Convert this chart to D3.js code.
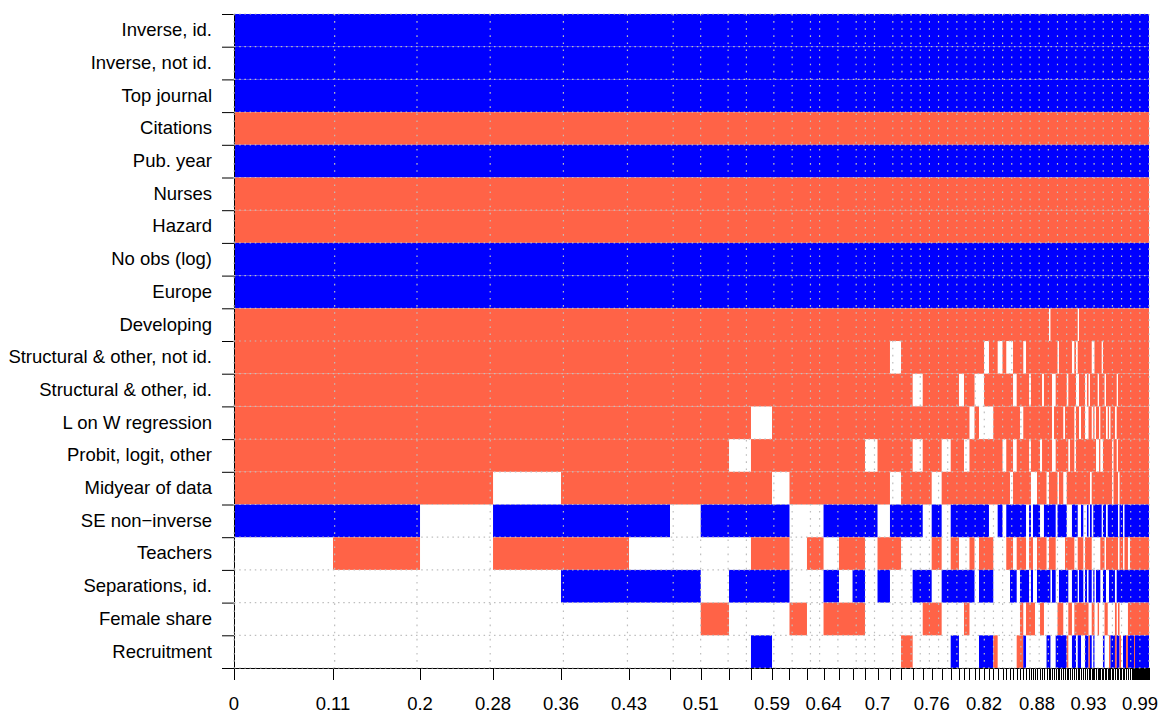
<!DOCTYPE html>
<html>
<head>
<meta charset="utf-8">
<script src="https://cdn.jsdelivr.net/npm/d3@7"></script>
<style>
  body { margin: 0; background: #ffffff; }
  svg { display: block; }
  text { font-family: "Liberation Sans", Arial, Helvetica, sans-serif; }
</style>
</head>
<body>
<svg id="chart" width="1159" height="713"></svg>
<script>
// ---- data -------------------------------------------------------------
const variables = [
  "Inverse, id.", "Inverse, not id.", "Top journal", "Citations", "Pub. year",
  "Nurses", "Hazard", "No obs (log)", "Europe", "Developing",
  "Structural & other, not id.", "Structural & other, id.", "L on W regression",
  "Probit, logit, other", "Midyear of data", "SE non\u2212inverse", "Teachers",
  "Separations, id.", "Female share", "Recruitment"
];

// cumulative posterior model probability at the right edge of each model
const cumPMP = [
  0.1082, 0.2033, 0.2831, 0.3574, 0.4317, 0.4765, 0.5101, 0.5410, 0.5650, 0.5880,
  0.6071, 0.6262, 0.6443, 0.6612, 0.6760, 0.6896, 0.7033, 0.7169, 0.7290, 0.7417,
  0.7527, 0.7625, 0.7734, 0.7833, 0.7923, 0.7978, 0.8038, 0.8093, 0.8142, 0.8197,
  0.8251, 0.8298, 0.8346, 0.8399, 0.8440, 0.8481, 0.8514, 0.8554, 0.8590, 0.8626,
  0.8656, 0.8689, 0.8710, 0.8732, 0.8754, 0.8776, 0.8809, 0.8831, 0.8852, 0.8880,
  0.8907, 0.8923, 0.8940, 0.8962, 0.8980, 0.9000, 0.9016, 0.9038, 0.9063, 0.9082,
  0.9101, 0.9118, 0.9137, 0.9158, 0.9184, 0.9202, 0.9221, 0.9235, 0.9257, 0.9282,
  0.9301, 0.9322, 0.9339, 0.9355, 0.9374, 0.9391, 0.9404, 0.9421, 0.9439, 0.9454,
  0.9468, 0.9483, 0.9497, 0.9514, 0.9530, 0.9549, 0.9563, 0.9579, 0.9596, 0.9612,
  0.9628, 0.9647, 0.9661, 0.9678, 0.9694, 0.9716, 0.9732, 0.9749, 0.9770, 0.9792,
  0.9814, 0.9825, 0.9836, 0.9847, 0.9858, 0.9869, 0.9880, 0.9891, 0.9902, 0.9913,
  0.9923, 0.9934, 0.9945, 0.9956, 0.9967, 0.9978, 0.9989, 1.0000
];

// sign of each variable in each model (one string per model, one char per variable)
// "+" positive, "-" negative, "0" not included
const modelSigns = [
  "---+-++--++++++-0000", "---+-++--++++++-+000", "---+-++--++++++00000", "---+-++--+++++0-+000",
  "---+-++--++++++-+-00", "---+-++--++++++-0-00", "---+-++--++++++00-00", "---+-++--++++++-00+0",
  "---+-++--++++0+-0-00", "---+-++--+++0++-+-0-", "---+-++--+++++0-+-00", "---+-++--++++++000+0",
  "---+-++--++++++0+000", "---+-++--++++++-0-+0", "---+-++--++++++-+0+0", "---+-++--++++++-+-+0",
  "---+-++--++++0+-0000", "---+-++--++++++0+-00", "---+-++--+0+++0-+000", "---+-++--++++++-000+",
  "---+-++--++0+0+-0-00", "---+-++--++++++00-+0", "---+-++--+++++0-+0+0", "---+-++--++++0+00-00",
  "---+-++--++++++-+-0-", "---+-++--++0+++-0-00", "---+-++--++++0+-0-+0", "---+-++--+++0++-+-00",
  "---+-++--++0+++-0000", "---+-++--++00++-+-0-", "---+-++--+0+0++-+-0-", "---+-++--+++0++0+-0-",
  "---+-++--++++++0000+", "---+-++--+0++++-0000", "---+-++--++++0+00000", "---+-++--+0++++-+000",
  "---+-++--+0+++0-+-00", "---+-++--++0+0+-0-00", "---+-++--++++++-+00+", "---+-++--+++0++-+-++",
  "---+-++--+0++++-+-0-", "---+-++--++++++00-+0", "---+-++--++0+0+-+0+0", "---+-++--+++++00+-+0",
  "---+-++--+++++0-00+0", "---+-++--+++++0-0000", "---+-++--++++++-+-00", "---+-++--++++0+0+-+0",
  "---+-++--++0+++0+-+0", "---+-++--++++++-+-00", "---+-++--+++++0-0-0-", "---+-++--0+++++-+-0-",
  "---+-++--++++++-+000", "---+-++--++000+-+-00", "---+-++--++0+0+-+-00", "---+-++--++++++0000-",
  "---+-++--+0+++0-00+-", "---+-++--++++++-0-+-", "---+-++--++++++-0-+-", "---+-++--+++0+0-0-0-",
  "---+-++--+++++0-+-0-", "---+-++--++0+++0+-0+", "---+-++--++++0+0+0+0", "---+-++--++++++0+0+0",
  "---+-++--+0++++-+-0-", "---+-++--+++00+-0-+-", "---+-++--+00+++-0-+0", "---+-++--0+0+++0+0+-",
  "---+-++--+++0++0+-+-", "---+-++--++++++-+-+0", "---+-++--++++++000+0", "---+-++--++00++0+-+-",
  "---+-++--+++0++-+0+-", "---+-++--++0+++0+-0+", "---+-++--+++++0-+-0-", "---+-++--+0+0++000+0",
  "---+-++--+0++++-0-+-", "---+-++--+++0++-0000", "---+-++--++++0+-0-00", "---+-++--++0+0+-0-+0",
  "---+-++--+++0++-0-00", "---+-++--++++0+-+000", "---+-++--+0++0+0+000", "---+-++--++++++-+-0-",
  "---+-++--++0+++-0-+0", "---+-++--+++0++0+0+0", "---+-++--++++++-+000", "---+-++--+++0++-+-0+",
  "---+-++--++++++-+-0-", "---+-++--++++00-+-0-", "---+-++--++++++-+-0-", "---+-++--+++0++-+0++",
  "---+-++--++0+0+-+-0-", "---+-++--+++++000-+-", "---+-++--++++++-+-0+", "---+-++--++++++-+-00",
  "---+-++--++++++00-0-", "---+-++--++++++-+-0-", "---+-++--++++++-+-0+", "---+-++--++++++-0-+-",
  "---+-++--++++++-+-+-", "---+-++--++++++-+-+-", "---+-++--++++++-+-+-", "---+-++--++++++-+-++",
  "---+-++--++++++-+-+-", "---+-++--++++++-+-+-", "---+-++--++++++-+-+-", "---+-++--++++++-+-+-",
  "---+-++--++++++-+-+-", "---+-++--++++++-+-+-", "---+-++--++++++-+-+-", "---+-++--++++++-+-+-",
  "---+-++--++++++-+-+-", "---+-++--++++++-+-+-", "---+-++--++++++-+-+-", "---+-++--++++++-+-+-",
  "---+-++--++++++-+-+-", "---+-++--++++++-+-+-"
];

// x-axis labels and the model boundary (index into [0, ...cumPMP]) they sit on
const xTickLabels = ["0", "0.11", "0.2", "0.28", "0.36", "0.43", "0.51", "0.59", "0.64", "0.7", "0.76", "0.82", "0.88", "0.93", "0.99"];
const xTickLabelAt = [0, 1, 2, 3, 4, 5, 7, 10, 13, 17, 22, 30, 46, 73, 109];

const signColors = { "+": "#FF6347", "-": "#0000FF" };

// ---- chart --------------------------------------------------------------
const svg = d3.select("#chart");
const plotL = 234, plotR = 1149, plotT = 14, plotB = 668;
const fontPx = 18.5;
const bounds = [0, ...cumPMP];
const N = cumPMP.length;

const x = d3.scaleLinear().domain([0, bounds[N]]).range([plotL, plotR]);
const y = d3.scaleBand().domain(variables).range([plotT, plotB]).padding(0);
const yEdge = d3.scaleLinear().domain([0, variables.length]).range([plotT, plotB]);

// cells: merge consecutive models with the same sign in a row
const runs = [];
variables.forEach((v, r) => {
  let start = 0;
  for (let m = 1; m <= N; m++) {
    const s = modelSigns[start][r];
    if (m === N || modelSigns[m][r] !== s) {
      if (s !== "0") runs.push({ v, s, x0: bounds[start], x1: bounds[m] });
      start = m;
    }
  }
});

svg.append("g").selectAll("rect")
  .data(runs)
  .join("rect")
  .attr("x", d => x(d.x0))
  .attr("y", d => y(d.v))
  .attr("width", d => x(d.x1) - x(d.x0))
  .attr("height", y.bandwidth())
  .attr("fill", d => signColors[d.s]);

// x axis: a tick at every model boundary
const xAxis = svg.append("g")
  .attr("transform", `translate(0,${plotB})`)
  .call(d3.axisBottom(x).tickValues(bounds).tickSize(12).tickSizeOuter(0).tickFormat(""));
xAxis.selectAll("line").attr("stroke", "#000").attr("shape-rendering", "crispEdges");
xAxis.select(".domain").attr("stroke", "#000");

svg.append("g").selectAll("text")
  .data(xTickLabels)
  .join("text")
  .attr("x", (d, i) => x(bounds[xTickLabelAt[i]]))
  .attr("y", 710)
  .attr("text-anchor", "middle")
  .attr("font-size", fontPx)
  .attr("fill", "#000")
  .text(d => d);

// y axis: ticks at row boundaries, labels at row centres
const yAxis = svg.append("g")
  .attr("transform", `translate(${plotL},0)`)
  .call(d3.axisLeft(yEdge).tickValues(d3.range(variables.length + 1)).tickSize(12).tickSizeOuter(0).tickFormat(""));
yAxis.selectAll("line").attr("stroke", "#000");
yAxis.select(".domain").attr("stroke", "#000");

const yLab = svg.append("g")
  .attr("transform", `translate(${plotL},0)`)
  .call(d3.axisLeft(y).tickSize(0).tickPadding(22));
yLab.select(".domain").remove();
yLab.selectAll("text")
  .attr("font-size", fontPx)
  .attr("font-family", "'Liberation Sans', Arial, Helvetica, sans-serif")
  .attr("fill", "#000");

// dotted grid on top: vertical lines at rounded cumulative probabilities, horizontal at row edges
const gridX = Array.from(new Set(bounds.map(b => Math.round(b * 100) / 100)));
const grid = svg.append("g").attr("stroke", "#BEBEBE").attr("stroke-width", 1.2).attr("fill", "none");
grid.selectAll("line.v")
  .data(gridX)
  .join("line")
  .attr("class", "v")
  .attr("x1", d => x(d)).attr("x2", d => x(d))
  .attr("y1", plotT).attr("y2", plotB)
  .attr("stroke-dasharray", "1.6,5.5");
grid.selectAll("line.h")
  .data(d3.range(variables.length + 1))
  .join("line")
  .attr("class", "h")
  .attr("x1", plotL).attr("x2", plotR)
  .attr("y1", d => yEdge(d)).attr("y2", d => yEdge(d))
  .attr("stroke-dasharray", "1.5,3.7");
</script>
</body>
</html>
